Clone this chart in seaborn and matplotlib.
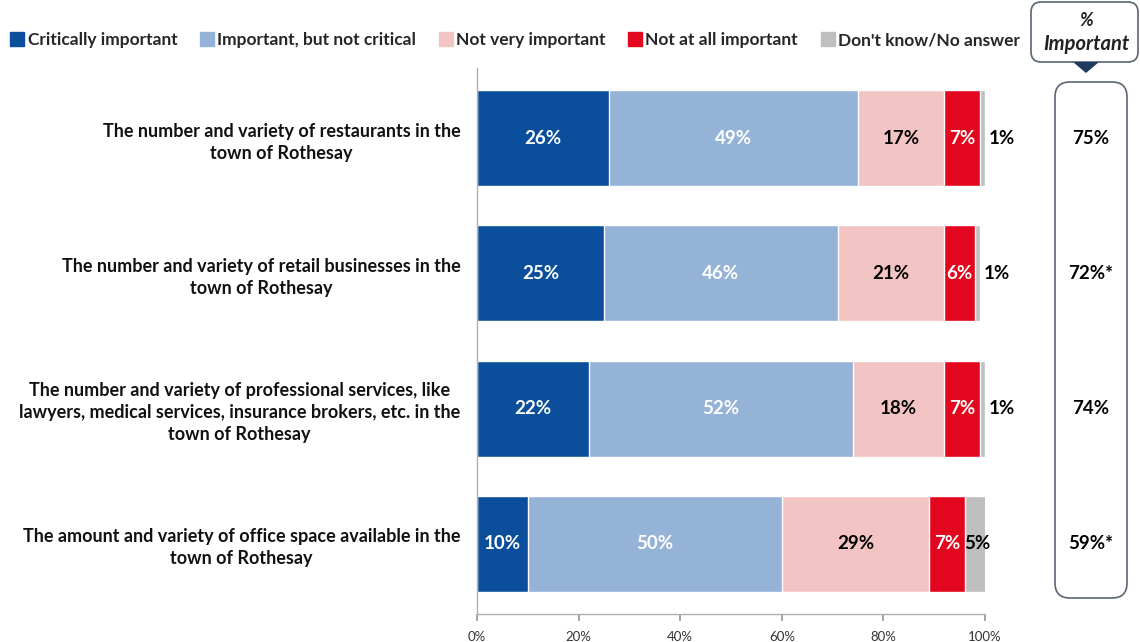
import pandas as pd
import seaborn as sns
import matplotlib.pyplot as plt
import matplotlib.transforms as mtransforms
from matplotlib.patches import FancyBboxPatch, Polygon
from matplotlib.lines import Line2D

# survey items, top to bottom
items = [
    "The number and variety of restaurants in the\ntown of Rothesay",
    "The number and variety of retail businesses in the\ntown of Rothesay",
    "The number and variety of professional services, like\nlawyers, medical services, insurance brokers, etc. in the\ntown of Rothesay",
    "The amount and variety of office space available in the\ntown of Rothesay",
]
categories = ["Critically important", "Important, but not critical", "Not very important",
              "Not at all important", "Don't know/No answer"]
critical = [26, 25, 22, 10]
important = [49, 46, 52, 50]
not_very = [17, 21, 18, 29]
not_at_all = [7, 6, 7, 7]
dont_know = [1, 1, 1, 5]
pct_important = ["75%", "72%*", "74%", "59%*"]

colors = ["#0B4F9C", "#95B3D7", "#F3C4C4", "#E2071F", "#BFBFBF"]
label_colors = ["white", "white", "black", "white", "black"]

W, H = 1140, 642

sns.set_theme(style="white")
plt.rcParams['font.family'] = ['Lato', 'DejaVu Sans']

df = pd.DataFrame(dict(zip(categories, [critical, important, not_very, not_at_all, dont_know])), index=items)
cum = df.cumsum(axis=1)

fig = plt.figure(figsize=(W / 100, H / 100), dpi=100)
ax = fig.add_axes([477 / W, 1 - 614 / H, 508 / W, 546 / H])

# stacked bars: draw cumulative totals from the back forward
for cat, col in reversed(list(zip(categories, colors))):
    sns.barplot(x=cum[cat].values, y=items, color=col, saturation=1, width=0.71,
                orient="h", ax=ax)

ax.set_xlim(0, 100)
ax.set_ylim(3.52, -0.52)
ax.set_xlabel("")
ax.set_ylabel("")
ax.set_xticks([0, 20, 40, 60, 80, 100])
ax.set_xticklabels([f"{v}%" for v in [0, 20, 40, 60, 80, 100]], fontsize=9.5, color="#333333")
ax.tick_params(axis="x", bottom=True, length=5, color="#999999", pad=7)
ax.tick_params(axis="y", length=0, pad=12)
for lab in ax.get_yticklabels():
    lab.set_fontweight("bold")
    lab.set_fontsize(13)
    lab.set_multialignment("center")
    lab.set_linespacing(1.35)
    lab.set_color("#111111")
for s in ["top", "right"]:
    ax.spines[s].set_visible(False)
for s in ["left", "bottom"]:
    ax.spines[s].set_color("#B0B0B0")
    ax.spines[s].set_linewidth(1)

# segment labels
for i, item in enumerate(items):
    for j, cat in enumerate(categories):
        val = df.loc[item, cat]
        end = cum.loc[item, cat]
        if j == len(categories) - 1 and val <= 2:
            x, ha = end + 0.8, "left"
        else:
            x, ha = end - val / 2, "center"
        ax.text(x, i, f"{val}%", ha=ha, va="center", fontsize=13.5, fontweight="bold",
                color=label_colors[j])

# legend
handles = [Line2D([], [], marker="s", linestyle="none", markersize=10, color=c) for c in colors]
fig.legend(handles, categories, loc="upper left", bbox_to_anchor=(-0.004, 0.974), ncol=5,
           frameon=False, handlelength=0.7, handletextpad=0.25, columnspacing=1.35,
           prop=dict(weight="bold", size=12.5))

# right-hand "% Important" panel (pixel coords -> inches)
def inch(x, y):
    return x / 100, (H - y) / 100

hx, hy = inch(1031, 62)
fig.add_artist(FancyBboxPatch((hx, hy), 1.07, 0.60, boxstyle="round,pad=0,rounding_size=0.1",
                              transform=fig.dpi_scale_trans, facecolor="none",
                              edgecolor="#5A6573", linewidth=1.2, clip_on=False))
fig.add_artist(Polygon([inch(1073, 62), inch(1099, 62), inch(1086, 73)], closed=True,
                       transform=fig.dpi_scale_trans, facecolor="#1F3A5F", edgecolor="none"))
bx, by = inch(1055, 598)
fig.add_artist(FancyBboxPatch((bx, by), 0.72, 5.16, boxstyle="round,pad=0,rounding_size=0.15",
                              transform=fig.dpi_scale_trans, facecolor="none",
                              edgecolor="#5A6573", linewidth=1.2, clip_on=False))
fig.text(1086 / W, 1 - 20 / H, "%", ha="center", va="center", fontsize=13,
         fontweight="bold", fontstyle="italic", color="#222222")
fig.text(1086 / W, 1 - 44 / H, "Important", ha="center", va="center", fontsize=14.5,
         fontweight="bold", fontstyle="italic", color="#222222")

trans = mtransforms.blended_transform_factory(fig.transFigure, ax.transData)
for i, v in enumerate(pct_important):
    fig.text(1091 / W, i, v, transform=trans, ha="center", va="center", fontsize=13.5,
             fontweight="bold", color="black")

fig.savefig("out.png", dpi=100)
